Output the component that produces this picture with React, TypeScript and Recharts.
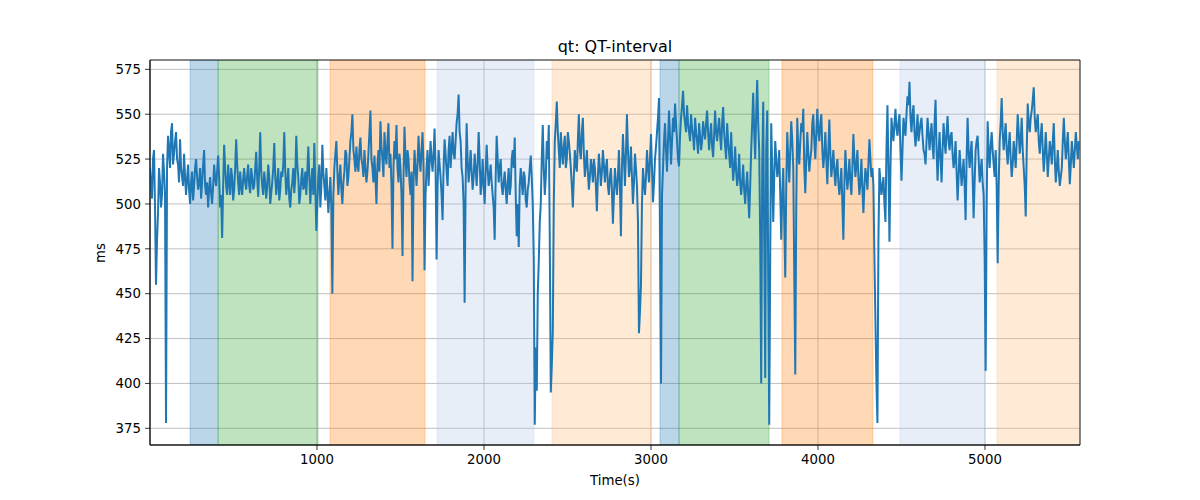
import React from 'react';
import { LineChart, Line, XAxis, YAxis, CartesianGrid, ReferenceArea } from 'recharts';

// Sampling interval of the series (seconds between samples)
const STEP = 6;

// Start time (s) of each chunk of readings
const partStarts = [0, 936, 1860, 2796, 3720, 4644];

// QT-interval values (ms), one per STEP seconds
const qtPart1 = [
  520, 510, 503, 525, 530, 498, 455, 480, 495, 520, 512, 498, 505, 528, 518, 505, 378, 520, 538, 530,
  520, 540, 545, 522, 528, 535, 540, 525, 522, 512, 536, 520, 515, 510, 528, 515, 505, 514, 522, 508,
  500, 512, 518, 502, 510, 520, 525, 515, 508, 512, 520, 503, 512, 522, 530, 510, 505, 512, 498, 508,
  515, 506, 500, 510, 522, 514, 510, 518, 527, 515, 498, 505, 481, 510, 533, 520, 510, 505, 522, 512,
  505, 520, 515, 502, 508, 520, 536, 522, 512, 505, 518, 510, 505, 514, 520, 512, 508, 516, 522, 510,
  506, 520, 515, 508, 510, 520, 529, 514, 504, 520, 540, 518, 510, 505, 518, 512, 503, 510, 522, 515,
  500, 506, 512, 520, 534, 515, 505, 512, 520, 502, 508, 518, 515, 522, 540, 518, 505, 512, 520, 503,
  498, 508, 512, 520, 506, 515, 538, 522, 515, 500, 505, 514, 520, 508, 510, 518,
];
const qtPart2 = [
  505, 518, 532, 515, 500, 512, 520, 505, 534, 510, 485, 500, 515, 522, 498, 510, 533, 518, 510, 502,
  520, 508, 495, 505, 515, 498, 450, 505, 520, 528, 535, 518, 505, 515, 522, 508, 500, 512, 518, 530,
  528, 510, 515, 525, 535, 540, 550, 530, 525, 518, 532, 522, 518, 530, 537, 525, 522, 515, 530, 520,
  512, 518, 528, 540, 552, 525, 520, 512, 527, 515, 500, 522, 530, 518, 546, 532, 525, 515, 540, 528,
  522, 535, 545, 520, 528, 510, 475, 520, 535, 525, 544, 520, 512, 528, 520, 505, 471, 515, 543, 525,
  515, 530, 525, 512, 505, 518, 457, 512, 530, 520, 510, 522, 538, 525, 518, 530, 540, 520, 463, 505,
  520, 530, 510, 522, 535, 525, 518, 528, 542, 520, 469, 510, 530, 522, 515, 505, 491, 520, 536, 528,
  518, 510, 530, 538, 520, 530, 540, 528, 525, 535, 545, 550, 561, 540,
];
const qtPart3 = [
  535, 520, 515, 500, 445, 510, 545, 525, 512, 520, 530, 518, 508, 515, 528, 520, 510, 522, 540, 525,
  505, 512, 525, 510, 500, 518, 533, 520, 510, 515, 522, 512, 505, 498, 480, 515, 538, 525, 512, 520,
  525, 510, 505, 512, 518, 508, 500, 512, 520, 505, 510, 525, 530, 520, 537, 505, 482, 500, 476, 510,
  520, 512, 505, 518, 515, 502, 498, 508, 512, 520, 527, 515, 500, 470, 377, 420, 396, 450, 468, 490,
  500, 525, 544, 520, 505, 515, 535, 525, 544, 480, 395, 410, 429, 500, 535, 545, 557, 540, 530, 520,
  540, 530, 522, 532, 538, 520, 525, 540, 535, 528, 520, 510, 498, 515, 530, 522, 518, 535, 550, 530,
  525, 540, 548, 528, 515, 522, 530, 518, 508, 515, 525, 520, 512, 525, 520, 510, 496, 515, 528, 520,
  510, 518, 530, 522, 512, 520, 525, 510, 505, 515, 520, 508, 489, 505, 520, 512,
];
const qtPart4 = [
  505, 515, 530, 510, 482, 520, 539, 525, 510, 528, 550, 530, 515, 520, 532, 515, 500, 512, 528, 520,
  510, 490, 428, 440, 455, 500, 520, 512, 505, 515, 530, 520, 512, 525, 539, 520, 501, 512, 525, 532,
  540, 548, 559, 480, 400, 505, 520, 535, 545, 530, 518, 535, 552, 538, 522, 535, 548, 540, 556, 545,
  535, 525, 521, 538, 548, 555, 563, 550, 545, 540, 555, 545, 540, 535, 550, 542, 538, 530, 548, 540,
  535, 528, 545, 538, 530, 535, 546, 540, 536, 545, 552, 540, 530, 538, 545, 532, 526, 538, 552, 540,
  535, 542, 548, 538, 530, 545, 554, 540, 532, 525, 545, 535, 528, 520, 540, 525, 513, 520, 532, 518,
  510, 515, 528, 512, 505, 512, 522, 508, 500, 510, 518, 505, 492, 510, 530, 545, 562, 540, 525, 550,
  569, 545, 530, 480, 400, 520, 557, 480, 403, 530, 552, 460, 377, 470,
];
const qtPart5 = [
  545, 520, 490, 515, 535, 525, 515, 520, 530, 505, 480, 505, 520, 490, 459, 510, 540, 525, 512, 530,
  546, 535, 520, 460, 405, 500, 548, 530, 522, 535, 545, 540, 553, 520, 506, 525, 540, 528, 518, 525,
  530, 545, 550, 535, 525, 540, 553, 540, 535, 545, 550, 530, 520, 528, 540, 525, 511, 530, 547, 528,
  515, 522, 530, 518, 510, 520, 525, 512, 505, 512, 520, 500, 480, 510, 530, 518, 508, 515, 525, 512,
  505, 520, 539, 525, 515, 522, 530, 515, 505, 512, 525, 508, 495, 510, 520, 515, 508, 522, 536, 525,
  515, 520, 510, 470, 435, 400, 378, 480, 520, 512, 505, 510, 515, 500, 490, 530, 555, 520, 479, 520,
  548, 540, 535, 545, 553, 542, 538, 545, 550, 530, 513, 530, 548, 542, 538, 550, 560, 555, 568, 548,
  540, 550, 555, 540, 532, 540, 550, 535, 540, 545, 548, 538, 530, 528,
];
const qtPart6 = [
  522, 535, 548, 540, 530, 538, 545, 532, 525, 545, 558, 530, 513, 528, 540, 525, 512, 530, 545, 535,
  528, 540, 549, 535, 530, 538, 540, 528, 520, 525, 535, 518, 502, 515, 530, 520, 510, 518, 525, 510,
  491, 525, 548, 530, 520, 528, 535, 515, 492, 512, 530, 535, 538, 525, 512, 518, 525, 512, 505, 470,
  407, 500, 546, 530, 520, 532, 540, 530, 522, 515, 530, 510, 467, 510, 535, 545, 559, 540, 530, 538,
  545, 530, 522, 532, 540, 525, 515, 522, 535, 528, 520, 535, 550, 540, 528, 535, 548, 530, 520, 510,
  493, 530, 556, 545, 540, 548, 552, 558, 565, 548, 540, 545, 550, 535, 528, 538, 545, 530, 518, 528,
  540, 528, 515, 525, 535, 530, 522, 535, 545, 525, 512, 520, 530, 518, 510, 515, 520, 535, 548, 535,
  525, 532, 540, 525, 511, 522, 535, 528, 520, 530, 540, 532, 525, 535, 530,
];

const qtParts = [qtPart1, qtPart2, qtPart3, qtPart4, qtPart5, qtPart6];

// Shaded phases: start, end (s)
const phaseStarts = [240, 408, 1078, 1719, 2407, 3054, 3168, 3784, 4491, 5072];
const phaseEnds = [408, 1006, 1647, 2299, 3000, 3168, 3707, 4329, 5000, 5570];
const phaseColors = ['#1f77b4', '#2ca02c', '#ff7f0e', '#aec7e8', '#ffbb78', '#1f77b4', '#2ca02c', '#ff7f0e', '#aec7e8', '#ffbb78'];
const PHASE_ALPHA = 0.3;

const xTicks = [1000, 2000, 3000, 4000, 5000];
const yTicks = [375, 400, 425, 450, 475, 500, 525, 550, 575];

const X_DOMAIN: [number, number] = [0, 5569];
const Y_DOMAIN: [number, number] = [365.7, 580.2];

const data = qtParts.flatMap((part, p) => part.map((v, i) => ({ t: partStarts[p] + i * STEP, qt: v })));

const FONT = '"DejaVu Sans", sans-serif';

export default function App() {
  return (
    <div style={{ position: 'absolute', left: 0, top: 0, width: 1200, height: 500, background: '#fff', fontFamily: FONT }}>
      <LineChart width={1200} height={500} data={data} margin={{ top: 60, right: 120, bottom: 0, left: 90 }}>
        <CartesianGrid stroke="#b0b0b0" strokeWidth={0.8} vertical horizontal />
        {phaseStarts.map((s, i) => (
          <ReferenceArea
            key={i}
            x1={s}
            x2={phaseEnds[i]}
            y1={Y_DOMAIN[0]}
            y2={Y_DOMAIN[1]}
            fill={phaseColors[i]}
            fillOpacity={PHASE_ALPHA}
            stroke={phaseColors[i]}
            strokeOpacity={PHASE_ALPHA}
            strokeWidth={1}
            ifOverflow="hidden"
          />
        ))}
        <XAxis
          dataKey="t"
          type="number"
          domain={X_DOMAIN}
          allowDataOverflow
          ticks={xTicks}
          height={55}
          tickSize={5}
          tickMargin={5}
          tickLine={{ stroke: '#000', strokeWidth: 0.8 }}
          axisLine={{ stroke: '#000', strokeWidth: 0.8 }}
          tick={{ fill: '#000', fontSize: 13.3, fontFamily: FONT }}
        />
        <YAxis
          type="number"
          domain={Y_DOMAIN}
          allowDataOverflow
          ticks={yTicks}
          width={60}
          tickSize={5}
          tickMargin={4}
          tickLine={{ stroke: '#000', strokeWidth: 0.8 }}
          axisLine={{ stroke: '#000', strokeWidth: 0.8 }}
          tick={{ fill: '#000', fontSize: 13.3, fontFamily: FONT }}
        />
        <Line
          type="linear"
          dataKey="qt"
          stroke="#1f77b4"
          strokeWidth={2}
          dot={false}
          isAnimationActive={false}
        />
        <ReferenceArea
          x1={X_DOMAIN[0]}
          x2={X_DOMAIN[1]}
          y1={Y_DOMAIN[0]}
          y2={Y_DOMAIN[1]}
          fill="none"
          stroke="#000"
          strokeWidth={0.8}
        />
      </LineChart>
      <div style={{ position: 'absolute', left: 150, top: 37, width: 930, textAlign: 'center', fontSize: 16, lineHeight: '20px', color: '#000' }}>
        qt: QT-interval
      </div>
      <div style={{ position: 'absolute', left: 150, top: 472, width: 930, textAlign: 'center', fontSize: 13.3, lineHeight: '18px', color: '#000' }}>
        Time(s)
      </div>
      <div style={{ position: 'absolute', left: 71, top: 244, width: 60, textAlign: 'center', fontSize: 13.3, lineHeight: '18px', color: '#000', transform: 'rotate(-90deg)' }}>
        ms
      </div>
    </div>
  );
}
